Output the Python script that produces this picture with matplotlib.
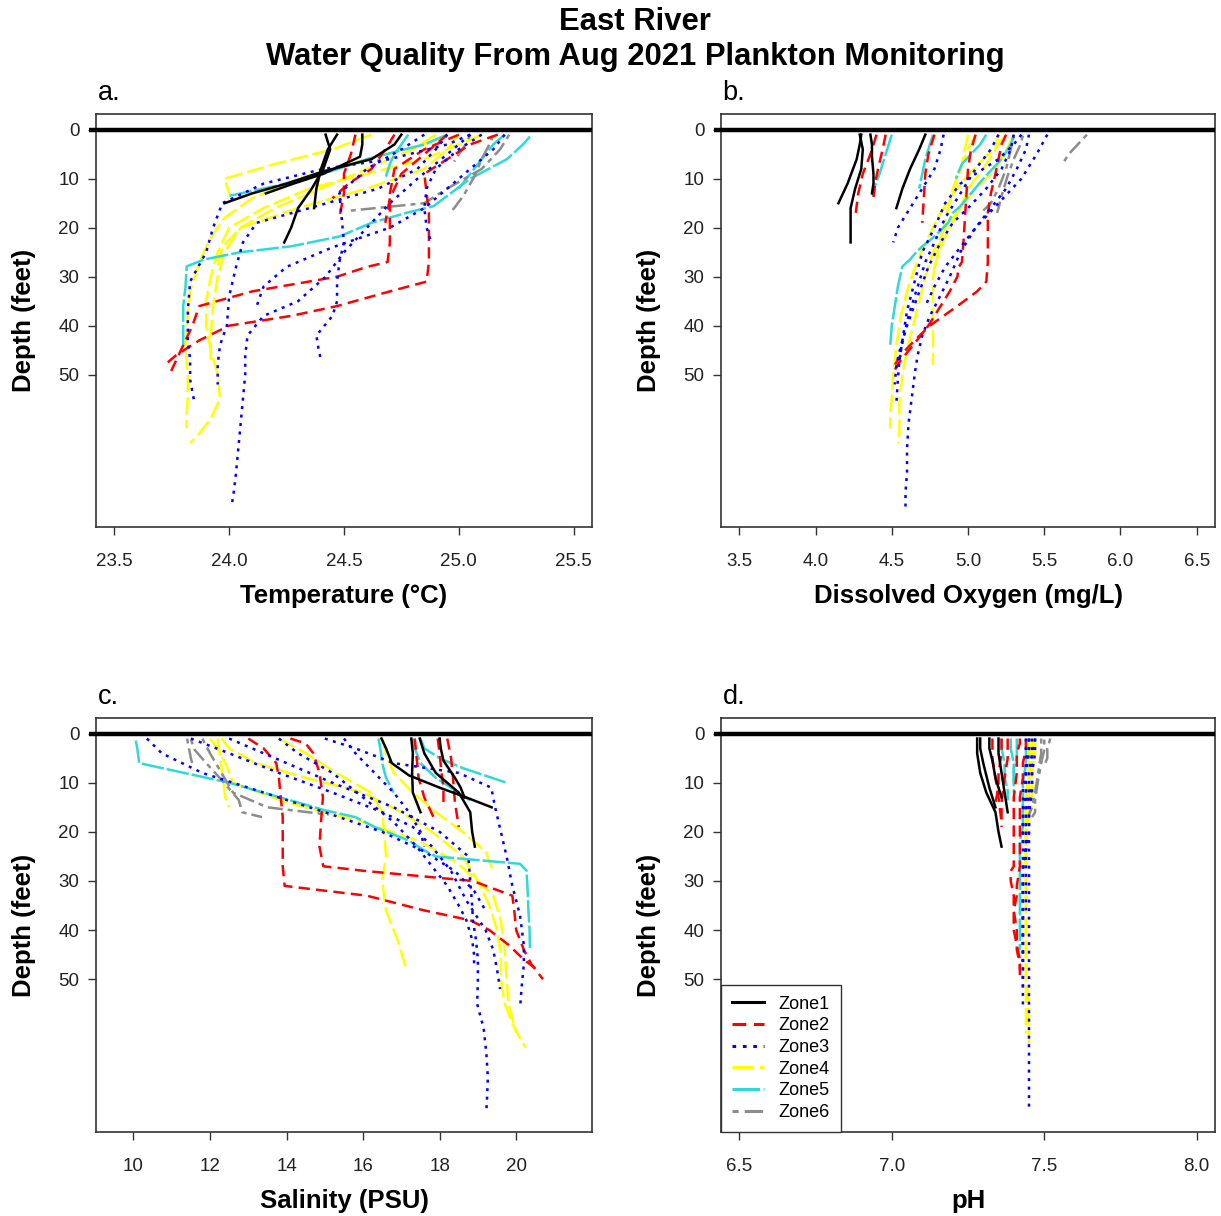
import matplotlib
matplotlib.use("Agg")
import matplotlib.pyplot as plt
from matplotlib.lines import Line2D

# ---------------------------------------------------------------------------
# Vertical profiles (depth in feet) for each sampling zone.
# Each inner list is one cast; the same cast index is shared by all variables.
# ---------------------------------------------------------------------------

# Zone 1
zone1_depth = [
    [1, 4, 8, 12, 16, 20, 23],
    [1, 3, 6, 8.5, 11, 13, 15],
    [1, 4, 8, 12, 16],
    [1, 3, 5.5, 9, 11, 13],
]
zone1_temp = [
    [24.42, 24.44, 24.41, 24.36, 24.30, 24.27, 24.24],
    [24.75, 24.72, 24.62, 24.41, 24.25, 24.10, 23.98],
    [24.47, 24.43, 24.40, 24.38, 24.37],
    [24.58, 24.58, 24.57, 24.41, 24.28, 24.16],
]
zone1_do = [
    [4.29, 4.31, 4.30, 4.26, 4.23, 4.23, 4.23],
    [4.30, 4.29, 4.27, 4.24, 4.21, 4.18, 4.15],
    [4.72, 4.68, 4.62, 4.57, 4.53],
    [4.36, 4.37, 4.37, 4.38, 4.38, 4.37],
]
zone1_sal = [
    [17.48, 17.60, 17.90, 18.50, 18.80, 18.85, 18.92],
    [16.48, 16.60, 16.75, 17.20, 18.00, 18.70, 19.36],
    [17.26, 17.30, 17.28, 17.30, 17.50],
    [18.00, 18.03, 18.10, 18.40, 18.55, 18.65],
]
zone1_ph = [
    [7.28, 7.28, 7.29, 7.31, 7.34, 7.35, 7.36],
    [7.29, 7.29, 7.30, 7.31, 7.32, 7.33, 7.34],
    [7.35, 7.35, 7.36, 7.37, 7.38],
    [7.32, 7.32, 7.33, 7.34, 7.35, 7.36],
]

# Zone 2
zone2_depth = [
    [1, 3, 6, 9, 13, 17, 22, 27, 31, 33, 36, 38, 40, 43, 46, 48],
    [1, 2, 4, 8, 13, 18, 23, 27, 28, 30, 33, 36, 40, 44, 47, 50],
    [1, 4, 8, 11, 14],
    [1, 5, 9, 13, 18],
    [1, 5, 9, 14, 19],
]
zone2_temp = [
    [25.17, 25.05, 24.95, 24.85, 24.86, 24.87, 24.87, 24.87, 24.86, 24.70, 24.47, 24.27, 24.00, 23.87, 23.77, 23.72],
    [25.00, 24.95, 24.85, 24.72, 24.70, 24.70, 24.70, 24.69, 24.60, 24.47, 24.10, 23.87, 23.84, 23.80, 23.77, 23.74],
    [24.72, 24.68, 24.62, 24.52, 24.45],
    [24.55, 24.53, 24.50, 24.50, 24.48],
    [24.95, 24.85, 24.75, 24.70, 24.68],
]
zone2_do = [
    [5.25, 5.22, 5.20, 5.18, 5.15, 5.13, 5.13, 5.13, 5.12, 5.06, 4.93, 4.84, 4.75, 4.65, 4.56, 4.52],
    [5.05, 5.04, 5.02, 5.00, 4.99, 4.98, 4.97, 4.96, 4.94, 4.93, 4.88, 4.82, 4.74, 4.64, 4.56, 4.50],
    [4.46, 4.44, 4.41, 4.39, 4.38],
    [4.40, 4.36, 4.31, 4.28, 4.26],
    [4.78, 4.74, 4.72, 4.71, 4.70],
]
zone2_sal = [
    [13.00, 13.40, 13.73, 13.80, 13.85, 13.90, 13.90, 13.90, 13.95, 16.10, 17.60, 18.80, 19.30, 19.80, 20.20, 20.54],
    [14.10, 14.50, 14.70, 14.86, 14.95, 14.90, 14.86, 14.96, 16.10, 18.87, 19.90, 19.95, 20.00, 20.20, 20.40, 20.70],
    [17.95, 18.00, 18.05, 18.10, 18.10],
    [17.35, 17.40, 17.45, 17.60, 17.90],
    [18.20, 18.30, 18.35, 18.40, 18.50],
]
zone2_ph = [
    [7.44, 7.44, 7.43, 7.43, 7.42, 7.42, 7.42, 7.42, 7.41, 7.41, 7.40, 7.40, 7.40, 7.41, 7.42, 7.42],
    [7.42, 7.42, 7.41, 7.41, 7.40, 7.40, 7.40, 7.40, 7.39, 7.39, 7.40, 7.40, 7.41, 7.41, 7.42, 7.42],
    [7.36, 7.36, 7.35, 7.35, 7.34],
    [7.33, 7.33, 7.34, 7.35, 7.36],
    [7.38, 7.38, 7.37, 7.36, 7.36],
]

# Zone 3
zone3_depth = [
    [1, 5, 10, 15, 20, 25, 30, 35, 38, 42, 46, 50, 55, 60, 65, 70, 74, 77],
    [1, 3, 6, 8, 11, 15, 20, 25, 31, 37, 43, 47, 51, 56],
    [1, 4, 8, 12, 16, 19, 23, 28, 34, 40, 44, 48, 52],
    [1, 4, 8, 13, 18, 23, 27, 31, 35, 38, 42, 45, 47],
    [1, 4, 8, 12, 16, 20, 23],
    [1, 4, 8, 12, 16, 20, 24, 28, 32, 36],
]
zone3_temp = [
    [25.05, 24.95, 24.82, 24.70, 24.60, 24.50, 24.42, 24.30, 24.15, 24.08, 24.07, 24.07, 24.06, 24.05, 24.04, 24.03, 24.02, 24.01],
    [25.05, 24.95, 24.70, 24.41, 24.15, 23.97, 23.93, 23.90, 23.83, 23.82, 23.82, 23.83, 23.83, 23.85],
    [24.95, 24.90, 24.82, 24.65, 24.35, 24.12, 24.06, 24.03, 24.00, 23.99, 23.96, 23.95, 23.95],
    [24.85, 24.75, 24.60, 24.48, 24.49, 24.50, 24.48, 24.47, 24.47, 24.45, 24.38, 24.39, 24.40],
    [25.10, 25.00, 24.90, 24.86, 24.85, 24.86, 24.88],
    [25.20, 25.15, 25.05, 24.95, 24.85, 24.70, 24.45, 24.25, 24.15, 24.12],
]
zone3_do = [
    [5.52, 5.45, 5.35, 5.20, 5.05, 4.95, 4.88, 4.80, 4.75, 4.70, 4.67, 4.65, 4.63, 4.61, 4.60, 4.60, 4.59, 4.59],
    [5.35, 5.30, 5.20, 5.10, 4.95, 4.85, 4.78, 4.70, 4.65, 4.60, 4.57, 4.55, 4.54, 4.53],
    [5.30, 5.28, 5.22, 5.12, 5.00, 4.90, 4.82, 4.74, 4.67, 4.60, 4.56, 4.53, 4.52],
    [5.20, 5.15, 5.05, 4.95, 4.85, 4.78, 4.72, 4.68, 4.64, 4.61, 4.58, 4.56, 4.55],
    [4.84, 4.82, 4.78, 4.70, 4.62, 4.54, 4.51],
    [5.40, 5.38, 5.32, 5.25, 5.15, 5.05, 4.95, 4.85, 4.78, 4.72],
]
zone3_sal = [
    [12.50, 13.70, 15.20, 16.80, 18.00, 18.75, 18.80, 18.85, 18.87, 18.95, 19.00, 19.00, 18.98, 19.15, 19.22, 19.26, 19.24, 19.22],
    [15.00, 15.80, 16.80, 18.50, 19.35, 19.45, 19.60, 19.75, 19.90, 20.10, 20.20, 20.20, 20.15, 20.10],
    [11.50, 12.50, 13.80, 15.20, 16.50, 17.30, 17.80, 18.30, 18.70, 19.20, 19.40, 19.50, 19.58],
    [13.80, 14.30, 15.20, 16.00, 16.80, 17.40, 17.80, 18.20, 18.50, 18.70, 18.85, 18.90, 18.90],
    [15.50, 15.80, 16.30, 16.80, 17.20, 17.50, 17.60],
    [10.35, 10.74, 11.80, 13.40, 15.00, 16.50, 17.60, 18.40, 18.90, 19.20],
]
zone3_ph = [
    [7.47, 7.46, 7.46, 7.45, 7.45, 7.45, 7.45, 7.45, 7.45, 7.45, 7.45, 7.45, 7.45, 7.45, 7.45, 7.45, 7.45, 7.45],
    [7.45, 7.45, 7.44, 7.44, 7.43, 7.43, 7.43, 7.43, 7.43, 7.43, 7.43, 7.43, 7.43, 7.43],
    [7.46, 7.46, 7.45, 7.45, 7.44, 7.44, 7.44, 7.43, 7.43, 7.43, 7.43, 7.43, 7.43],
    [7.45, 7.45, 7.44, 7.44, 7.44, 7.44, 7.43, 7.43, 7.43, 7.43, 7.43, 7.43, 7.43],
    [7.44, 7.44, 7.44, 7.44, 7.43, 7.43, 7.43],
    [7.47, 7.47, 7.46, 7.46, 7.45, 7.45, 7.44, 7.44, 7.44, 7.44],
]

# Zone 4
zone4_depth = [
    [1, 3, 6, 9, 12, 16, 20, 25, 30, 35, 40, 45, 50, 55, 59, 62, 64],
    [1, 3, 6, 10, 14, 18, 22, 26, 30, 33, 38, 44, 50, 55, 58, 61],
    [1, 4, 8, 12, 16, 20, 25, 30, 36, 42, 48],
    [1, 4, 7, 10, 13, 15],
    [1, 4, 8, 12, 16, 20, 24, 28],
]
zone4_temp = [
    [25.10, 25.00, 24.85, 24.60, 24.35, 24.15, 24.00, 23.95, 23.92, 23.90, 23.90, 23.92, 23.95, 23.96, 23.92, 23.87, 23.83],
    [24.95, 24.85, 24.60, 24.30, 24.10, 23.98, 23.92, 23.88, 23.85, 23.83, 23.82, 23.81, 23.82, 23.82, 23.815, 23.815],
    [24.90, 24.80, 24.60, 24.40, 24.20, 24.05, 23.98, 23.95, 23.93, 23.92, 23.92],
    [24.62, 24.45, 24.20, 23.98, 24.00, 24.02],
    [25.00, 24.95, 24.85, 24.60, 24.30, 24.05, 23.97, 23.95],
]
zone4_do = [
    [5.30, 5.27, 5.22, 5.15, 5.05, 4.95, 4.85, 4.77, 4.72, 4.68, 4.64, 4.60, 4.57, 4.55, 4.55, 4.55, 4.54],
    [5.25, 5.20, 5.10, 4.98, 4.88, 4.80, 4.74, 4.68, 4.63, 4.60, 4.56, 4.53, 4.51, 4.50, 4.49, 4.49],
    [5.05, 5.00, 4.95, 4.90, 4.87, 4.84, 4.80, 4.77, 4.77, 4.77, 4.77],
    [5.00, 4.98, 4.96, 4.93, 4.90, 4.88],
    [5.20, 5.18, 5.10, 5.00, 4.95, 4.88, 4.82, 4.78],
]
zone4_sal = [
    [12.30, 12.50, 13.20, 14.50, 16.00, 17.00, 17.80, 18.60, 19.00, 19.30, 19.50, 19.60, 19.60, 19.70, 19.90, 20.10, 20.25],
    [12.00, 12.20, 12.40, 12.60, 14.00, 16.00, 17.50, 18.40, 19.00, 19.40, 19.60, 19.70, 19.75, 19.80, 19.90, 20.00],
    [13.80, 14.50, 15.30, 16.20, 16.50, 16.55, 16.60, 16.50, 16.60, 16.90, 17.13],
    [12.20, 12.25, 12.30, 12.35, 12.40, 12.50],
    [16.50, 16.60, 16.80, 17.30, 17.90, 18.60, 19.20, 19.40],
]
zone4_ph = [
    [7.46, 7.46, 7.46, 7.45, 7.45, 7.45, 7.44, 7.44, 7.44, 7.44, 7.44, 7.44, 7.44, 7.45, 7.45, 7.45, 7.45],
    [7.46, 7.46, 7.45, 7.45, 7.44, 7.44, 7.44, 7.44, 7.44, 7.44, 7.44, 7.44, 7.44, 7.44, 7.44, 7.44],
    [7.45, 7.45, 7.45, 7.44, 7.44, 7.44, 7.44, 7.44, 7.44, 7.44, 7.44],
    [7.47, 7.47, 7.46, 7.46, 7.46, 7.46],
    [7.46, 7.46, 7.45, 7.45, 7.45, 7.44, 7.44, 7.44],
]

# Zone 5
zone5_depth = [
    [1.4, 3, 6, 10, 15.6, 17, 19, 21.8, 23.8, 25, 26.5, 27.9, 32, 36, 40, 44],
    [1, 3, 5, 7, 10],
    [1, 3, 6, 9, 11.5, 13.6],
    [1, 3, 6, 9, 12],
]
zone5_temp = [
    [25.31, 25.28, 25.21, 25.05, 24.89, 24.77, 24.62, 24.48, 24.27, 24.05, 23.89, 23.815, 23.81, 23.80, 23.80, 23.80],
    [24.78, 24.75, 24.72, 24.70, 24.68],
    [24.95, 24.85, 24.60, 24.41, 24.20, 23.99],
    [25.20, 25.15, 25.10, 25.05, 25.00],
]
zone5_do = [
    [5.30, 5.28, 5.22, 5.10, 4.95, 4.90, 4.87, 4.78, 4.70, 4.66, 4.62, 4.57, 4.54, 4.52, 4.50, 4.49],
    [5.12, 5.08, 5.02, 4.96, 4.92],
    [4.50, 4.48, 4.45, 4.42, 4.39, 4.38],
    [4.77, 4.75, 4.72, 4.70, 4.68],
]
zone5_sal = [
    [10.06, 10.10, 10.15, 12.50, 15.00, 15.80, 16.30, 17.20, 17.60, 17.90, 20.10, 20.27, 20.30, 20.32, 20.35, 20.36],
    [17.50, 17.60, 18.00, 18.60, 19.75],
    [17.30, 17.35, 17.50, 17.90, 18.40, 18.80],
    [16.40, 16.45, 16.50, 16.60, 16.80],
]
zone5_ph = [
    [7.44, 7.44, 7.44, 7.43, 7.43, 7.43, 7.43, 7.42, 7.42, 7.42, 7.42, 7.42, 7.42, 7.42, 7.42, 7.42],
    [7.41, 7.41, 7.41, 7.40, 7.40],
    [7.36, 7.36, 7.37, 7.37, 7.38, 7.38],
    [7.39, 7.39, 7.40, 7.40, 7.40],
]

# Zone 6
zone6_depth = [
    [1.2, 3.3, 6, 9.4, 13.5, 16, 17],
    [1, 4, 8, 12, 15, 16.5],
    [1, 3, 5, 6.5],
]
zone6_temp = [
    [25.15, 25.13, 25.10, 25.07, 25.02, 24.98, 24.96],
    [25.22, 25.18, 25.10, 24.95, 24.85, 24.53],
    [25.05, 25.03, 25.00, 24.98],
]
zone6_do = [
    [5.36, 5.34, 5.30, 5.26, 5.22, 5.20, 5.19],
    [5.30, 5.28, 5.25, 5.20, 5.15, 5.10],
    [5.78, 5.72, 5.66, 5.63],
]
zone6_sal = [
    [11.50, 11.60, 11.90, 12.30, 12.75, 12.84, 13.36],
    [11.80, 12.00, 12.30, 12.60, 13.50, 15.10],
    [11.40, 11.45, 11.50, 11.55],
]
zone6_ph = [
    [7.50, 7.50, 7.49, 7.48, 7.47, 7.47, 7.46],
    [7.49, 7.49, 7.48, 7.47, 7.46, 7.45],
    [7.52, 7.51, 7.51, 7.50],
]

zone_names = ["Zone1", "Zone2", "Zone3", "Zone4", "Zone5", "Zone6"]
zone_colors = ["black", "red", "blue", "yellow", "#30d8d8", "#8c8c8c"]
zone_dashes = [None, (4.5, 2.5), (1.2, 2.2), (7, 2), (9, 1.2), (2, 2, 6, 2)]

depths = [zone1_depth, zone2_depth, zone3_depth, zone4_depth, zone5_depth, zone6_depth]
temps = [zone1_temp, zone2_temp, zone3_temp, zone4_temp, zone5_temp, zone6_temp]
dos = [zone1_do, zone2_do, zone3_do, zone4_do, zone5_do, zone6_do]
sals = [zone1_sal, zone2_sal, zone3_sal, zone4_sal, zone5_sal, zone6_sal]
phs = [zone1_ph, zone2_ph, zone3_ph, zone4_ph, zone5_ph, zone6_ph]

plt.rcParams["font.family"] = ["Liberation Sans", "DejaVu Sans"]

LW = 1.8
fig = plt.figure(figsize=(12.21, 12.16), dpi=100)

panels = [
    dict(pos=[0.0786, 0.5666, 0.4062, 0.3396], data=temps, xlim=(23.42, 25.58),
         ticks=[23.5, 24.0, 24.5, 25.0, 25.5], fmt="{:.1f}", label="Temperature (\u00b0C)", tag="a."),
    dict(pos=[0.5905, 0.5666, 0.4046, 0.3396], data=dos, xlim=(3.38, 6.62),
         ticks=[3.5, 4.0, 4.5, 5.0, 5.5, 6.0, 6.5], fmt="{:.1f}", label="Dissolved Oxygen (mg/L)", tag="b."),
    dict(pos=[0.0786, 0.0691, 0.4062, 0.3405], data=sals, xlim=(9.02, 21.98),
         ticks=[10, 12, 14, 16, 18, 20], fmt="{:d}", label="Salinity (PSU)", tag="c."),
    dict(pos=[0.5905, 0.0691, 0.4046, 0.3405], data=phs, xlim=(6.44, 8.06),
         ticks=[6.5, 7.0, 7.5, 8.0], fmt="{:.1f}", label="pH", tag="d."),
]

draw_order = [3, 4, 5, 1, 2, 0]

for i, p in enumerate(panels):
    ax = fig.add_axes(p["pos"])
    for z in draw_order:
        for dep, val in zip(depths[z], p["data"][z]):
            ln, = ax.plot(val, dep, color=zone_colors[z], lw=LW)
            if zone_dashes[z] is not None:
                ln.set_dashes(zone_dashes[z])
    ax.set_xlim(*p["xlim"])
    ax.set_ylim(81.1, -3.2)
    ax.set_yticks([0, 10, 20, 30, 40, 50])
    ax.set_yticklabels(["0", "10", "20", "30", "40", "50"])
    ax.set_xticks(p["ticks"])
    ax.set_xticklabels([p["fmt"].format(t) for t in p["ticks"]])
    ax.tick_params(axis="both", direction="out", length=6, width=1.0, colors="#333333",
                   labelcolor="#222222", labelsize=13.5)
    ax.tick_params(axis="x", pad=12.5)
    ax.tick_params(axis="y", pad=6)
    for s in ax.spines.values():
        s.set_color("#333333")
        s.set_linewidth(1.2)
    # surface reference line at depth 0
    ax.plot([-0.014, 1.0], [0, 0], transform=ax.get_yaxis_transform(), clip_on=False,
            color="black", lw=3.2, solid_capstyle="butt", zorder=5)
    ax.set_xlabel(p["label"], fontsize=18.5, fontweight="bold", labelpad=10)
    ax.set_ylabel("Depth (feet)", fontsize=18.5, fontweight="bold", labelpad=16)
    x0, y0, w, h = p["pos"]
    fig.text(x0 + 0.0105, y0 + h + 0.0175, p["tag"], fontsize=19.5, ha="center", va="center")

    if i == 3:
        handles = []
        for z in range(6):
            h_ = Line2D([0], [0], color=zone_colors[z], lw=2.2)
            if zone_dashes[z] is not None:
                h_.set_dashes(zone_dashes[z])
            handles.append(h_)
        leg = ax.legend(handles, zone_names, loc="lower left", borderaxespad=0.0,
                        fontsize=13, frameon=True, fancybox=False, framealpha=1.0,
                        edgecolor="#333333", handlelength=1.8, handletextpad=0.8,
                        labelspacing=0.26, borderpad=0.6)
        leg.get_frame().set_linewidth(1.0)

fig.text(0.52, 0.982, "East River", ha="center", va="center", fontsize=22.3, fontweight="bold")
fig.text(0.52, 0.9535, "Water Quality From Aug 2021 Plankton Monitoring", ha="center", va="center",
         fontsize=22.3, fontweight="bold")

fig.savefig("out.png", dpi=100)
